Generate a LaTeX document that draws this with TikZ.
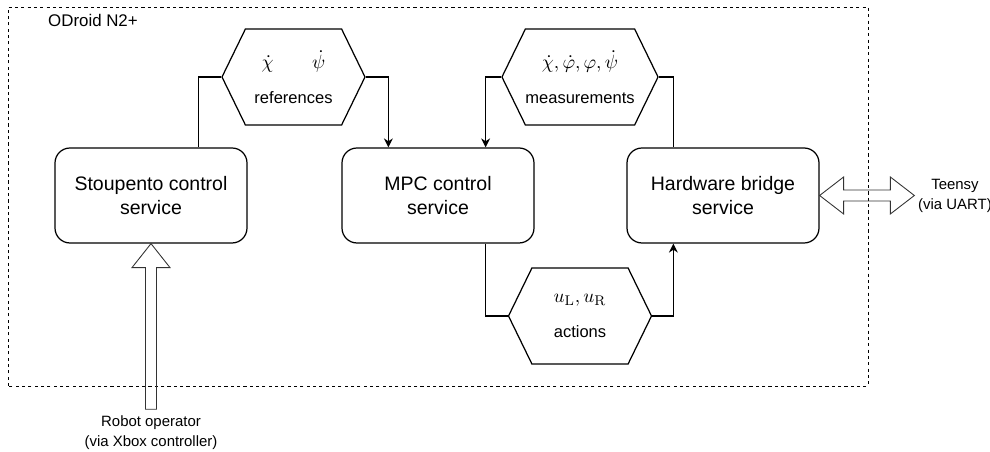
\documentclass[tikz,border=0pt]{standalone}
\usepackage[no-math]{fontspec}
\setmainfont{Liberation Sans}
\usetikzlibrary{positioning}
\usetikzlibrary{calc}
\usetikzlibrary{arrows.meta}
\usetikzlibrary{shapes.symbols}
\newcommand{\msize}{\fontsize{11}{19.5}\selectfont}

\tikzset{
  service/.style={draw, rounded corners=0.3cm, minimum width=3.84cm, minimum height=1.9cm, align=center, font=\fontsize{11.1}{13.6}\selectfont, line width=0.7pt},
  msg/.style={draw, signal, signal to=west and east, signal pointer angle=128, minimum width=2.86cm, minimum height=1.92cm, align=center, font=\fontsize{9.4}{19.5}\selectfont, inner sep=0pt, line width=0.7pt},
  note/.style={align=center, font=\fontsize{8.5}{11.3}\selectfont, inner sep=2pt},
  wire/.style={line width=0.7pt},
  link/.style={line width=0.7pt, -{Stealth[length=1.8mm,width=1.8mm]}},
  fat/.style={line width=0.5pt, draw=black!80},
}

\begin{document}
\begin{tikzpicture}
    \useasboundingbox (0,0) rectangle (19.8,9.04);
    \draw[dash pattern=on 1.8pt off 1.8pt, line width=0.5pt] (0.16,1.32) rectangle (17.36,8.9);
    \node[anchor=west, font=\fontsize{9.6}{11}\selectfont] (odroid) at (0.84,8.64) {ODroid N2+};

    \node[service] (stoupento) at (3.02,5.13) {Stoupento control\\service};
    \node[service] (mpc) at (8.76,5.13) {MPC control\\service};
    \node[service] (hw) at (14.46,5.13) {Hardware bridge\\service};

    \node[msg] (refs) at (5.87,7.5) {{\msize$\dot\chi\qquad\dot\psi$}\\references};
    \node[msg] (meas) at (11.6,7.5) {{\msize$\dot\chi, \dot\varphi, \varphi, \dot\psi$}\\measurements};
    \node[msg] (act) at (11.6,2.72) {{\msize$u_{\mathrm{L}}, u_{\mathrm{R}}$}\\actions};

    \node[note] (operator) at (3.02,0.38) {Robot operator\\(via Xbox controller)};
    \node[note] (teensy) at (19.1,5.13) {Teensy\\(via UART)};

    \draw[wire] (refs.west) -| ($(stoupento.north east)+(-0.98,0)$);
    \draw[link] (refs.east) -| ($(mpc.north west)+(0.94,0)$);
    \draw[link] (meas.west) -| ($(mpc.north east)+(-0.98,0)$);
    \draw[wire] (meas.east) -| ($(hw.north west)+(0.94,0)$);
    \draw[wire] ($(mpc.south east)+(-0.98,0)$) |- (act.west);
    \draw[link] (act.east) -| ($(hw.south west)+(0.94,0)$);

    % hollow arrows
    \draw[fat] (stoupento.south) -- ++(0.38,-0.48) -- ++(-0.27,0) -- ($(operator.north)+(0.11,0.06)$)
        -- ++(-0.22,0) -- ($(stoupento.south)+(-0.11,-0.48)$) -- ++(-0.27,0) -- cycle;
    \draw[fat] (hw.east) -- ++(0.48,0.37) -- ++(0,-0.26) -- ($(teensy.west)+(-0.48,0.11)$) -- ++(0,0.26)
        -- (teensy.west) -- ++(-0.48,-0.37) -- ++(0,0.26) -- ($(hw.east)+(0.48,-0.11)$) -- ++(0,-0.26) -- cycle;
\end{tikzpicture}
\end{document}
